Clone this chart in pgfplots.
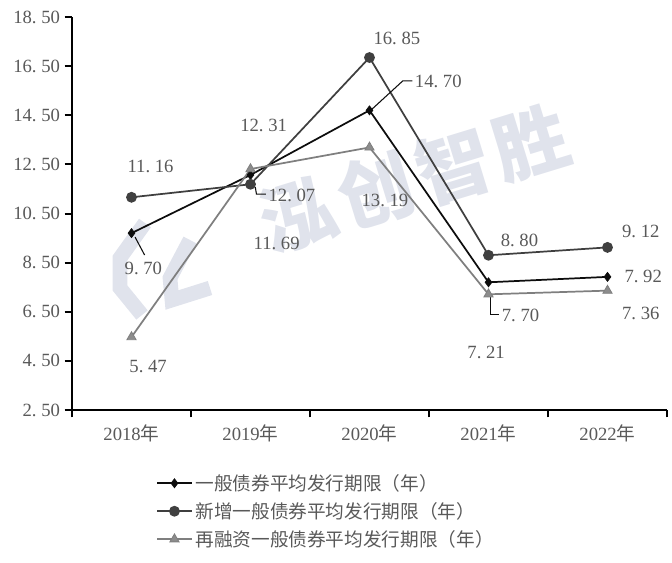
\documentclass[border=0pt]{standalone}
\usepackage{fontspec}
\usepackage{pgfplots}
\pgfplotsset{compat=1.18}
\setmainfont{Liberation Serif}
\newfontfamily\cjk{Noto Sans CJK SC}
\definecolor{txt}{HTML}{595959}
\definecolor{sA}{HTML}{0D0D0D}
\definecolor{sB}{HTML}{3F3F3F}
\definecolor{sBm}{HTML}{404040}
\definecolor{sC}{HTML}{7F7F7F}
\definecolor{sCm}{HTML}{8C8C8C}
\definecolor{wm}{HTML}{E0E3EC}
\newcommand\nm[2]{#1.\kern0.25em#2}
\tikzset{lab/.style={text=txt, font=\fontsize{14pt}{16pt}\selectfont, inner sep=0pt}}
\begin{document}
\begin{tikzpicture}
\node[rotate=17,text=wm,font={\cjk\bfseries\fontsize{56pt}{58pt}\selectfont}] at (257pt,174pt) {泓\kern5pt 创\kern5pt 智\kern5pt 胜};
\draw[wm, line width=11pt, line join=miter] (54.75pt,140.25pt) -- (36pt,114pt) -- (36pt,91.5pt) -- (52.5pt,71.25pt);
\draw[wm, line width=11pt, line join=miter] (88.5pt,127.5pt) -- (73.5pt,99pt) -- (75pt,82.5pt) -- (103.5pt,91.5pt);
\begin{axis}[
  at={(0pt,0pt)}, anchor=south west,
  scale only axis, width=446.25pt, height=294.75pt,
  xmin=-0.5, xmax=4.5, ymin=2.5, ymax=18.5,
  axis x line*=bottom, axis y line*=left,
  axis line style={line width=1.5pt, black},
  clip=false,
  xtick={0,1,2,3,4},
  xticklabels={2018{\cjk 年},2019{\cjk 年},2020{\cjk 年},2021{\cjk 年},2022{\cjk 年}},
  major x tick style={draw=none},
  minor xtick={-0.5,0.5,1.5,2.5,3.5,4.5},
  minor x tick style={line width=1.5pt,black},
  minor tick length=5.5pt,
  ytick={2.5,4.5,...,18.5},
  yticklabels={\nm{2}{50},\nm{4}{50},\nm{6}{50},\nm{8}{50},\nm{10}{50},\nm{12}{50},\nm{14}{50},\nm{16}{50},\nm{18}{50}},
  y tick style={line width=1.5pt,black},
  major tick length=5.5pt,
  tick align=outside,
  ticklabel style={font=\fontsize{14pt}{16pt}\selectfont, text=txt},
  xticklabel style={yshift=-2pt},
  legend style={at={(rel axis cs:0,0)}, anchor=north west, xshift=63pt, yshift=-46pt,
    draw=none, fill=none, font={\cjk\fontsize{14pt}{17pt}\selectfont}, text=txt,
    row sep=3.5pt, inner sep=0pt},
  legend cell align=left,
  legend image code/.code={\draw[mark repeat=2,mark phase=2,#1] plot coordinates {(0pt,0pt) (13pt,0pt) (26pt,0pt)};},
]
\addplot[sA, line width=1.3pt, mark=diamond*, mark size=3.4pt, mark options={fill=sA, draw=sA, line width=0.5pt}]
  coordinates {(0,9.70) (1,12.07) (2,14.70) (3,7.70) (4,7.92)};
\addlegendentry{一般债券平均发行期限（年）}
\addplot[sB, line width=1.3pt, mark=*, mark size=3.4pt, mark options={fill=sBm, draw=sBm}]
  coordinates {(0,11.16) (1,11.69) (2,16.85) (3,8.80) (4,9.12)};
\addlegendentry{新增一般债券平均发行期限（年）}
\addplot[sC, line width=1.3pt, mark=triangle*, mark size=4pt, mark options={fill=sCm, draw=sC, line width=0.6pt}]
  coordinates {(0,5.47) (1,12.31) (2,13.19) (3,7.21) (4,7.36)};
\addlegendentry{再融资一般债券平均发行期限（年）}
% callouts
\draw[sA, line width=0.8pt] (axis cs:0.03,9.54) -- (axis cs:0.11,8.81);
\draw[sA, line width=0.8pt] (axis cs:1.04,11.58) -- (axis cs:1.05,11.29) -- (axis cs:1.13,11.29);
\draw[sA, line width=0.8pt] (axis cs:2.01,14.70) -- (axis cs:2.28,15.90) -- (axis cs:2.36,15.90);
\draw[sA, line width=0.8pt] (axis cs:3.02,7.10) -- (axis cs:3.02,6.37) -- (axis cs:3.09,6.37);
% labels
\node[lab] at (axis cs:0.16,12.43) {\nm{11}{16}};
\node[lab] at (axis cs:0.10,8.28) {\nm{9}{70}};
\node[lab] at (axis cs:0.14,4.29) {\nm{5}{47}};
\node[lab] at (axis cs:1.11,14.10) {\nm{12}{31}};
\node[lab,anchor=west] at (axis cs:1.15,11.25) {\nm{12}{07}};
\node[lab] at (axis cs:1.22,9.30) {\nm{11}{69}};
\node[lab] at (axis cs:2.23,17.61) {\nm{16}{85}};
\node[lab,anchor=west] at (axis cs:2.38,15.86) {\nm{14}{70}};
\node[lab] at (axis cs:2.13,11.05) {\nm{13}{19}};
\node[lab] at (axis cs:3.26,9.42) {\nm{8}{80}};
\node[lab,anchor=west] at (axis cs:3.11,6.37) {\nm{7}{70}};
\node[lab] at (axis cs:2.98,4.86) {\nm{7}{21}};
\node[lab] at (axis cs:4.28,9.75) {\nm{9}{12}};
\node[lab] at (axis cs:4.30,7.92) {\nm{7}{92}};
\node[lab] at (axis cs:4.28,6.45) {\nm{7}{36}};
\end{axis}
\pgfresetboundingbox
\path (-54pt,-114pt) rectangle (450pt,307.5pt);
\end{tikzpicture}
\end{document}
